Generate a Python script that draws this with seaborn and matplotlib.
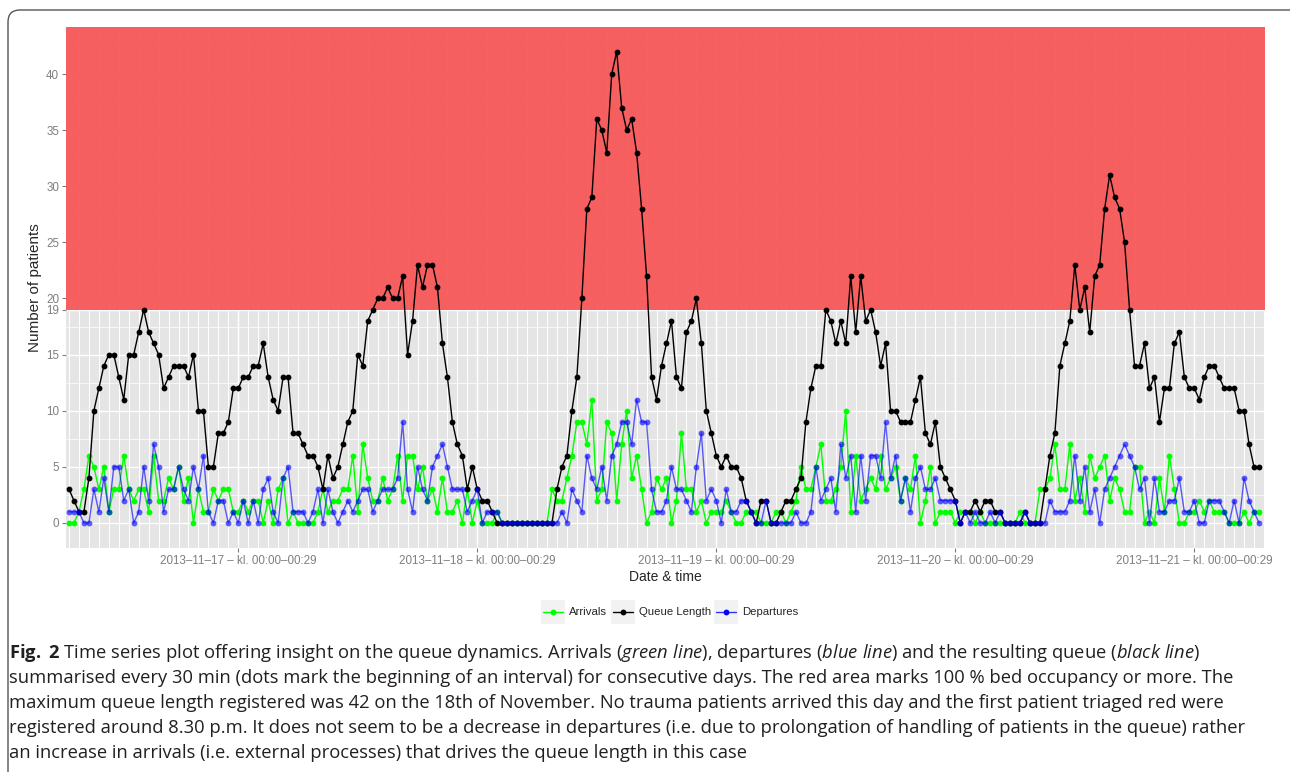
"""
Queue dynamics chart: arrivals, departures and queue length per half hour.
"""
import numpy as np
import pandas as pd
import matplotlib
matplotlib.use("Agg")
import matplotlib.pyplot as plt
from matplotlib.patches import Rectangle, FancyBboxPatch
from matplotlib.lines import Line2D
import seaborn as sns

# ─── DATA (one value per 30 min interval) ───────────────────────────────────
queue = [
    3, 2, 1, 1, 4, 10, 12, 14, 15, 15, 13, 11, 15, 15, 17, 19, 17, 16, 15, 12, 13, 14, 14, 14, 13, 15, 10, 10, 5, 5, 8,
    8, 9, 12, 12, 13, 13, 14, 14, 16, 13, 11, 10, 13, 13, 8, 8, 7, 6, 6, 5, 3, 6, 4, 5, 7, 9, 10, 15, 14, 18, 19,
    20, 20, 21, 20, 20, 22, 15, 18, 23, 21, 23, 23, 21, 16, 13, 9, 7, 6, 3, 5, 3, 2, 2, 1, 0,
    0, 0, 0, 0, 0, 0, 0, 0, 0, 0, 0,
    3, 5, 6, 10, 13, 20, 28, 29, 36, 35, 33, 40, 42, 37, 35, 36, 33, 28, 22, 13, 11, 14, 16, 18, 13, 12,
    17, 18, 20, 16, 10, 8, 6, 5, 6, 5, 5, 4, 2, 1, 0, 2, 2, 0, 0, 1, 2, 2, 3, 4, 9, 12, 14, 14, 19, 18, 16,
    18, 16, 22, 17, 22, 18, 19, 17, 14, 16, 10, 10, 9, 9, 9, 11, 13, 8, 7, 9, 5, 4, 3, 2,
    0, 1, 1, 2, 1, 2, 2, 1, 1, 0, 0, 0, 0, 1, 0, 0, 0,
    3, 6, 8, 14, 16, 18, 23, 19, 21, 17, 22, 23, 28, 31, 29, 28, 25,
    19, 14, 14, 16, 12, 13, 9, 12, 12, 16, 17, 13, 12, 12, 11, 13, 14, 14, 13, 12, 12, 12, 10, 10, 7, 5, 5,
]
arrivals = [
    0, 0, 1, 3, 6, 5, 3, 5, 1, 3, 3, 6, 3, 2, 3, 3, 1, 6, 2, 2, 4, 3, 5, 2, 4, 0, 3, 1, 1, 3, 2,
    3, 3, 1, 1, 2, 1, 2, 2, 0, 2, 0, 3, 4, 0, 1, 0, 0, 0, 0, 1, 3, 1, 2, 2, 3, 3, 6, 1, 7, 4, 2,
    2, 4, 2, 3, 6, 2, 6, 6, 3, 5, 2, 3, 1, 4, 1, 1, 2, 0, 3, 0, 2, 0, 0, 0, 1,
    0, 0, 0, 0, 0, 0, 0, 0, 0, 0, 3,
    2, 2, 4, 6, 9, 9, 7, 11, 2, 3, 9, 8, 2, 7, 10, 4, 6, 3, 0, 1, 4, 3, 4, 0, 2, 8,
    3, 3, 1, 2, 0, 1, 1, 1, 2, 1, 0, 0, 1, 1, 1, 0, 0, 0, 1, 1, 0, 1, 2, 5, 3, 3, 5, 7, 2, 2, 3,
    5, 10, 1, 6, 2, 3, 4, 3, 6, 3, 4, 5, 2, 4, 3, 6, 0, 2, 5, 0, 1, 1, 1, 0,
    1, 1, 1, 0, 1, 0, 0, 0, 0, 0, 0, 0, 1, 0, 0, 0, 3,
    3, 4, 7, 3, 3, 7, 2, 4, 1, 6, 4, 5, 6, 2, 4, 3, 1,
    1, 5, 5, 0, 1, 0, 4, 1, 6, 3, 0, 0, 1, 1, 2, 1, 2, 1, 1, 1, 0, 0, 0, 1, 0, 1, 1,
]
departures = [
    1, 1, 1, 0, 0, 3, 1, 4, 1, 5, 5, 2, 3, 0, 1, 5, 2, 7, 5, 1, 3, 3, 5, 3, 2, 5, 3, 6, 1, 0, 2,
    2, 0, 1, 0, 2, 0, 2, 0, 3, 4, 1, 0, 4, 5, 1, 1, 1, 0, 1, 3, 0, 3, 1, 0, 1, 2, 1, 2, 3, 3, 1,
    2, 3, 3, 3, 4, 9, 3, 1, 5, 3, 2, 5, 6, 7, 5, 3, 3, 3, 1, 2, 3, 0, 1, 1, 1,
    0, 0, 0, 0, 0, 0, 0, 0, 0, 0, 0,
    0, 1, 0, 3, 2, 1, 6, 4, 3, 5, 2, 6, 7, 9, 9, 7, 11, 9, 9, 3, 1, 1, 2, 5, 3, 3,
    2, 1, 5, 8, 2, 3, 2, 0, 3, 1, 1, 2, 2, 1, 0, 0, 2, 0, 0, 0, 0, 0, 1, 0, 0, 1, 5, 2, 3, 4, 1,
    7, 4, 6, 1, 6, 2, 6, 6, 4, 9, 4, 6, 2, 4, 1, 4, 5, 3, 3, 4, 2, 2, 2, 2,
    0, 1, 0, 1, 0, 0, 1, 0, 1, 0, 0, 0, 0, 1, 0, 0, 0,
    0, 2, 1, 1, 1, 2, 6, 2, 5, 1, 3, 0, 3, 4, 5, 6, 7,
    6, 5, 3, 4, 0, 4, 1, 1, 2, 2, 4, 1, 1, 2, 0, 0, 2, 2, 2, 1, 0, 2, 0, 4, 2, 1, 0,
]

SERIES      = ["Arrivals", "Queue Length", "Departures"]
DAY_TICKS   = [34, 82, 130, 178, 226]          # interval index of midnight
DAY_LABELS  = ["2013\u201311\u201317 \u2013 kl. 00:00\u201300:29",
               "2013\u201311\u201318 \u2013 kl. 00:00\u201300:29",
               "2013\u201311\u201319 \u2013 kl. 00:00\u201300:29",
               "2013\u201311\u201320 \u2013 kl. 00:00\u201300:29",
               "2013\u201311\u201321 \u2013 kl. 00:00\u201300:29"]
Y_TICKS     = [0, 5, 10, 15, 19, 20, 25, 30, 35, 40]
CAPACITY    = 19

CAPTION = [
    r"$\bf{Fig.}$ $\bf{2}$ Time series plot offering insight on the queue dynamics. Arrivals ($\it{green\ line}$), "
    r"departures ($\it{blue\ line}$) and the resulting queue ($\it{black\ line}$)",
    "summarised every 30 min (dots mark the beginning of an interval) for consecutive days. The red area marks 100 % bed occupancy or more. The",
    "maximum queue length registered was 42 on the 18th of November. No trauma patients arrived this day and the first patient triaged red were",
    "registered around 8.30 p.m. It does not seem to be a decrease in departures (i.e. due to prolongation of handling of patients in the queue) rather",
    "an increase in arrivals (i.e. external processes) that drives the queue length in this case",
]

# ─── STYLE ──────────────────────────────────────────────────────────────────
W, H = 1290, 772
COLORS = {"Arrivals": "#00FF00", "Queue Length": "#000000", "Departures": "#0000FF"}
ALPHAS = {"Arrivals": 1.0, "Queue Length": 1.0, "Departures": 0.62}
GREY_TXT = "#7F7F7F"

sns.set_style("darkgrid", {"axes.facecolor": "#E5E5E5", "grid.color": "white"})
plt.rcParams["font.family"] = ["Liberation Sans", "DejaVu Sans"]
plt.rcParams["mathtext.fontset"] = "custom"
plt.rcParams["mathtext.rm"] = "Open Sans"
plt.rcParams["mathtext.it"] = "Open Sans:italic"
plt.rcParams["mathtext.bf"] = "Open Sans:bold"


def fx(px):
    return px / W


def fy(py):
    return 1 - py / H


n = len(queue)
df = pd.DataFrame({
    "idx": np.tile(np.arange(n), 3),
    "value": arrivals + queue + departures,
    "series": np.repeat(SERIES, n),
})

fig = plt.figure(figsize=(W / 100, H / 100), dpi=100)
ax = fig.add_axes([fx(66), fy(548), fx(1265) - fx(66), fy(27) - fy(548)])

# red area: queue at or above bed capacity
ax.axhspan(CAPACITY, 50, color="#F95050", alpha=0.9, lw=0, zorder=1.5)

for s in SERIES:
    sns.lineplot(data=df[df["series"] == s], x="idx", y="value", color=COLORS[s],
                 alpha=ALPHAS[s], marker="o", markersize=4.2, markeredgewidth=0,
                 linewidth=1.0, ax=ax, legend=False, zorder=3)

ax.set_xlim(-0.6, 240.2)
ax.set_ylim(-2.23, 44.19)
ax.set_xticks(DAY_TICKS)
ax.set_xticklabels(DAY_LABELS)
ax.set_xticks(np.arange(0, n + 1, 2), minor=True)
ax.set_yticks(Y_TICKS)
ax.set_yticks([2.5, 7.5, 12.5, 17.5, 22.5, 27.5, 32.5, 37.5, 42.5], minor=True)
ax.grid(which="major", axis="both", color="white", linewidth=1.0)
ax.grid(which="minor", axis="x", color="white", linewidth=0.7)
ax.grid(which="minor", axis="y", color="white", linewidth=0.5)
ax.set_axisbelow(True)
ax.tick_params(which="major", length=3, width=0.8, color=GREY_TXT, labelcolor=GREY_TXT,
               labelsize=8.4, pad=2, bottom=True, left=True)
ax.tick_params(which="minor", length=0)
for sp in ax.spines.values():
    sp.set_visible(False)
ax.set_xlabel("Date & time", fontsize=10, labelpad=2)
ax.set_ylabel("Number of patients", fontsize=11, labelpad=3)

# legend (ggplot style keys with grey boxes)
key_left = [541, 611, 714]
for s, kx in zip(SERIES, key_left):
    fig.add_artist(Rectangle((fx(kx), fy(624)), fx(24), fy(600) - fy(624),
                             facecolor="#F2F2F2", edgecolor="none", transform=fig.transFigure))
    fig.add_artist(Line2D([fx(kx + 2), fx(kx + 22)], [fy(612), fy(612)], color=COLORS[s],
                          alpha=ALPHAS[s] if s != "Departures" else 0.8, lw=1.0,
                          transform=fig.transFigure))
    fig.add_artist(Line2D([fx(kx + 12)], [fy(612)], marker="o", markersize=4.2, mew=0,
                          color=COLORS[s], transform=fig.transFigure))
    fig.text(fx(kx + 28), fy(612), s, fontsize=8.2, va="center", ha="left")

# outer rounded frame
frame = FancyBboxPatch((0.08, -0.5), 13.5, 7.62 + 0.5, boxstyle="round,pad=0,rounding_size=0.12",
                       facecolor="none", edgecolor="#555555", linewidth=1.0,
                       transform=fig.dpi_scale_trans)
fig.add_artist(frame)

# caption
for i, line in enumerate(CAPTION):
    fig.text(fx(9), fy(653 + 25 * i), line, fontsize=13.2, family="Open Sans",
             color="#231F20", va="center", ha="left")

fig.savefig("out.png", dpi=100)
